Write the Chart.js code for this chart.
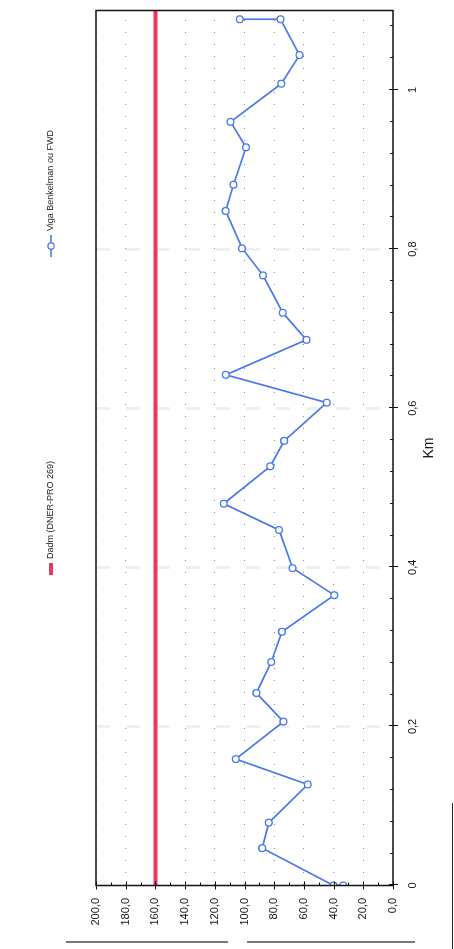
<!DOCTYPE html>
<html><head><meta charset="utf-8">
<script src="https://cdn.jsdelivr.net/npm/chart.js@4.4.0/dist/chart.umd.min.js"></script>
<style>
html,body{margin:0;padding:0;background:#fff;overflow:hidden;width:454px;height:949px;}
#wrap{position:absolute;left:0;top:0;width:949px;height:454px;transform-origin:0 0;transform:translate(0px,949px) rotate(-90deg);}
</style></head><body>
<div id="wrap"><canvas id="c" width="949" height="454"></canvas></div>
<script>
// ---- data ----
const seriesLabels = ['Dadm (DNER-PRO 269)', 'Viga Benkelman ou FWD'];
const kmValues = [0, 0, 0.047, 0.079, 0.127, 0.159, 0.206, 0.242, 0.281, 0.319, 0.365, 0.399, 0.447, 0.480, 0.527, 0.559, 0.607, 0.642, 0.686, 0.720, 0.767, 0.801, 0.848, 0.881, 0.928, 0.960, 1.008, 1.044, 1.089, 1.089];
const deflections = [33.5, 40.0, 88.1, 83.6, 57.4, 105.9, 73.8, 92.0, 82.0, 74.8, 39.5, 67.6, 76.8, 114.0, 82.6, 73.3, 44.6, 112.6, 58.3, 74.2, 87.5, 101.6, 112.7, 107.4, 99.0, 109.4, 75.2, 62.9, 75.8, 103.2];
const dadmKm = [0, 1.1];
const dadmValue = 160;
const kmTicks = [0, 0.2, 0.4, 0.6, 0.8, 1];
const valueTicks = [0, 20, 40, 60, 80, 100, 120, 140, 160, 180, 200];
const kmAxisTitle = 'Km';

const blue = 'rgb(72,120,234)';
const red = 'rgb(232,56,92)';
Chart.defaults.font.family = "'Liberation Sans', Arial, sans-serif";
Chart.defaults.color = '#111';

const fmtKm = v => { const r = Math.round(v * 10) / 10; return String(r).replace('.', ','); };
const fmtVal = v => v.toFixed(1).replace('.', ',');

const framePlugin = {
  id: 'frame',
  afterDatasetsDraw(chart) {
    const {ctx, chartArea: a, scales: {x, y}} = chart;
    ctx.save();
    ctx.strokeStyle = '#111';
    ctx.lineWidth = 1.5;
    ctx.strokeRect(a.left, a.top, a.right - a.left, a.bottom - a.top);
    ctx.lineWidth = 1;
    ctx.beginPath();
    for (let i = 0; i <= 27; i++) {
      const k = i * 0.04;
      const px = Math.round(x.getPixelForValue(k)) + 0.5;
      const major = (i % 5 === 0);
      ctx.moveTo(px, a.bottom - (major ? 4 : 3));
      ctx.lineTo(px, a.bottom + (major ? 5 : 0));
    }
    for (let v = 0; v <= 200; v += 10) {
      const py = Math.round(y.getPixelForValue(v)) + 0.5;
      const major = (v % 20 === 0);
      ctx.moveTo(a.left - (major ? 4 : 0), py);
      ctx.lineTo(a.left + (major ? 4 : 3), py);
    }
    ctx.stroke();
    ctx.restore();
  },
  afterDraw(chart) {
    const ctx = chart.ctx;
    const ds = chart.data.datasets;
    ctx.save();
    ctx.font = "9px 'Liberation Sans', Arial, sans-serif";
    ctx.textBaseline = 'middle';
    ctx.fillStyle = '#222';
    const cy = 51;
    // item 1
    ctx.strokeStyle = ds[0].borderColor; ctx.lineWidth = 4;
    ctx.beginPath(); ctx.moveTo(374, cy); ctx.lineTo(386, cy); ctx.stroke();
    ctx.fillText(ds[0].label, 390, cy);
    // item 2
    ctx.strokeStyle = ds[1].borderColor; ctx.lineWidth = 1.6;
    ctx.beginPath(); ctx.moveTo(692, cy); ctx.lineTo(714, cy); ctx.stroke();
    ctx.beginPath(); ctx.arc(703, cy, 3.2, 0, Math.PI * 2); ctx.fillStyle = '#fff'; ctx.fill(); ctx.lineWidth = 1.3; ctx.stroke();
    ctx.fillStyle = '#222';
    ctx.fillText(ds[1].label, 718, cy);
    // page border remnants
    ctx.strokeStyle = '#222'; ctx.lineWidth = 1.2;
    ctx.beginPath();
    ctx.moveTo(7, 66); ctx.lineTo(7, 228);
    ctx.moveTo(7, 247); ctx.lineTo(7, 415);
    ctx.moveTo(0, 452.5); ctx.lineTo(146, 452.5);
    ctx.stroke();
    ctx.restore();
  }
};

new Chart(document.getElementById('c'), {
  type: 'scatter',
  data: {
    datasets: [
      {
        label: seriesLabels[0],
        data: dadmKm.map(k => ({x: k, y: dadmValue})),
        showLine: true, borderColor: red, borderWidth: 4, pointRadius: 0, tension: 0
      },
      {
        label: seriesLabels[1],
        data: kmValues.map((k, i) => ({x: k, y: deflections[i]})),
        showLine: true, borderColor: blue, borderWidth: 1.7, tension: 0,
        pointRadius: 3.4, pointBorderWidth: 1.3, pointBackgroundColor: '#fff', pointBorderColor: blue
      }
    ]
  },
  options: {
    responsive: false, animation: false, devicePixelRatio: 1,
    layout: {padding: {left: 0, right: 10.5, top: 96, bottom: 0}},
    plugins: {legend: {display: false}, tooltip: {enabled: false}},
    scales: {
      x: {
        type: 'linear', position: 'bottom', min: 0, max: 1.1,
        afterBuildTicks: s => { s.ticks = kmTicks.map(v => ({value: v})); },
        afterFit: s => { s.height = 61; },
        ticks: {callback: v => fmtKm(v), padding: 13, font: {size: 11}, maxRotation: 0, color: '#111'},
        grid: {drawTicks: false, color: ctx => (ctx.tick && ctx.tick.value > 0 && ctx.tick.value < 1) ? 'rgba(0,0,0,0.06)' : 'rgba(0,0,0,0)', lineWidth: 3},
        border: {display: false, dash: [14, 16]},
        title: {display: true, text: kmAxisTitle, font: {size: 14}, padding: {top: 0, bottom: 16.6}, color: '#111'}
      },
      y: {
        type: 'linear', position: 'left', min: 0, max: 200,
        afterBuildTicks: s => { s.ticks = valueTicks.map(v => ({value: v})); },
        afterFit: s => { s.width = 63.5; },
        ticks: {callback: v => fmtVal(v), padding: 12.5, font: {size: 11}, color: '#111'},
        grid: {drawTicks: false, color: 'rgba(0,0,0,0.45)', lineWidth: 1},
        border: {display: false, dash: [1, 11]}
      }
    }
  },
  plugins: [framePlugin]
});
</script>
</body></html>
